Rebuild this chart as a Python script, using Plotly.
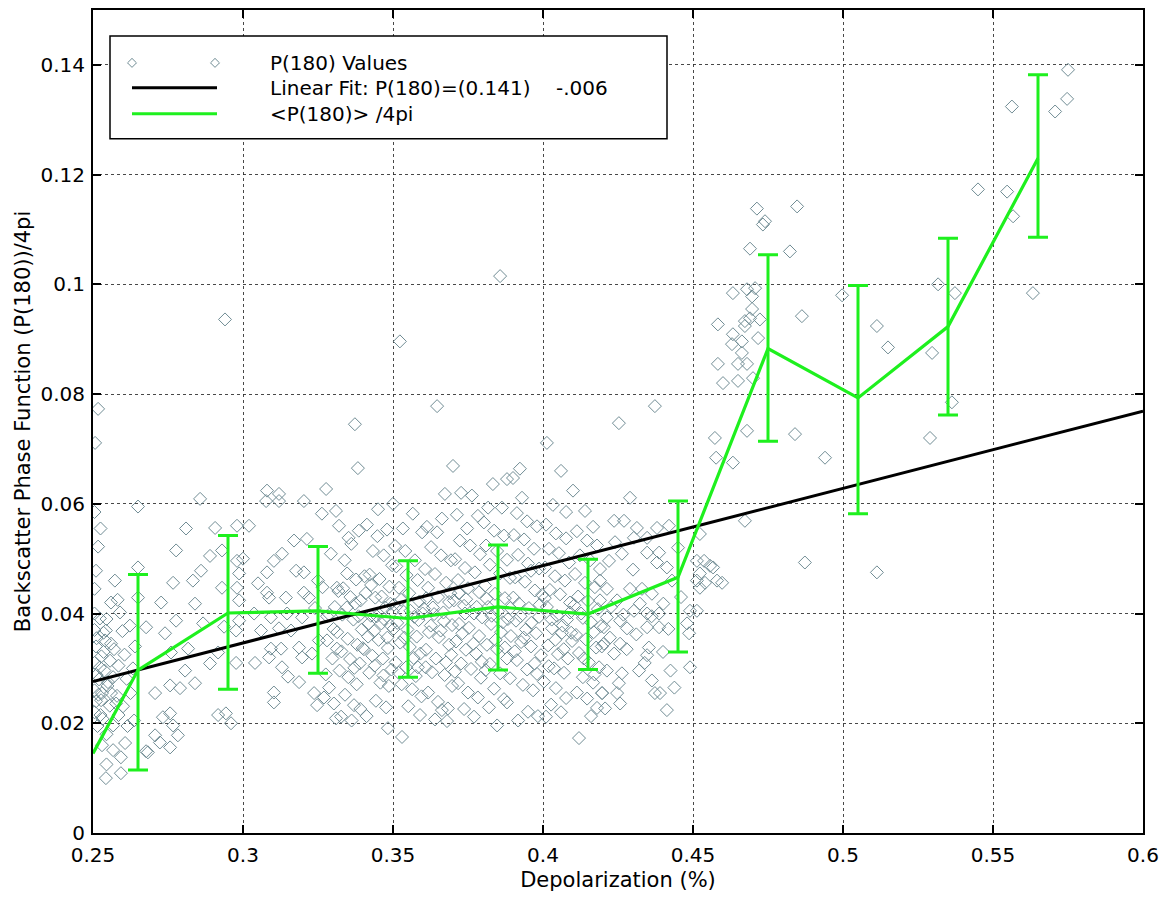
import plotly.graph_objects as go

# ---------------- data ----------------
# binned mean <P(180)>/4pi with error bars
bin_depol = [0.265, 0.295, 0.325, 0.355, 0.385, 0.415, 0.445, 0.475, 0.505, 0.535, 0.565]
bin_mean = [0.0297, 0.0401, 0.0405, 0.0391, 0.0412, 0.0399, 0.0466, 0.0883, 0.0793, 0.0923, 0.1230]
bin_top = [0.0471, 0.0542, 0.0522, 0.0496, 0.0525, 0.0499, 0.0605, 0.1054, 0.0998, 0.1084, 0.1382]
bin_bot = [0.0115, 0.0262, 0.0291, 0.0284, 0.0297, 0.0298, 0.0330, 0.0714, 0.0582, 0.0762, 0.1086]
mean_start = (0.25, 0.0145)

# linear fit end points
fit_depol = [0.25, 0.60]
fit_p180 = [0.0276, 0.0769]

pts_edge = [
    (0.2517,0.0773),(0.2507,0.0711),(0.2505,0.0585),(0.2525,0.0555),(0.2517,0.0522),(0.2510,0.0478),
    (0.2505,0.0445),(0.2573,0.0460),(0.2560,0.0420),(0.2590,0.0402),(0.2523,0.0391),(0.2545,0.0390),
    (0.2505,0.0400),(0.2623,0.0378),(0.2543,0.0369),(0.2505,0.0370),(0.2535,0.0365),(0.2540,0.0351),
    (0.2560,0.0345),(0.2510,0.0340),(0.2570,0.0335),(0.2535,0.0330),(0.2605,0.0325),(0.2557,0.0314),
    (0.2505,0.0310),(0.2585,0.0305),(0.2523,0.0302),(0.2567,0.0284),(0.2520,0.0280),(0.2550,0.0275),
    (0.2505,0.0260),(0.2560,0.0255),(0.2625,0.0255),(0.2580,0.0250),(0.2527,0.0242),(0.2510,0.0240),
    (0.2577,0.0236),(0.2600,0.0231),(0.2505,0.0220),(0.2525,0.0215),(0.2637,0.0205),(0.2567,0.0196),
    (0.2515,0.0195),(0.2615,0.0195),(0.2545,0.0180),(0.2530,0.0160),(0.2607,0.0164),(0.2567,0.0151),
    (0.2677,0.0149),(0.2593,0.0138),(0.2545,0.0125),(0.2593,0.0109),(0.2543,0.0100),(0.2650,0.0484),
    (0.2650,0.0429),(0.2677,0.0375),(0.2650,0.0595),(0.2633,0.0300),(0.2512,0.0288),(0.2530,0.0255),
    (0.2512,0.0355),(0.2528,0.0322),(0.2538,0.0296),(0.2548,0.0268),(0.2518,0.0252),(0.2556,0.0232),
    (0.2532,0.0208),(0.2585,0.0215),(0.2612,0.0281),(0.2640,0.0340),(0.2598,0.0368),(0.2582,0.0425),
]
pts_low = [
    (0.2740,0.0364),(0.2777,0.0387),(0.2777,0.0515),(0.2767,0.0456),(0.2833,0.0460),(0.2860,0.0478),
    (0.2840,0.0418),(0.2867,0.0382),(0.2857,0.0609),(0.2907,0.0556),(0.2817,0.0336),(0.2760,0.0329),
    (0.2890,0.0309),(0.2807,0.0296),(0.2757,0.0269),(0.2840,0.0273),(0.2790,0.0264),(0.2707,0.0255),
    (0.2757,0.0218),(0.2917,0.0215),(0.2733,0.0211),(0.2767,0.0196),(0.2783,0.0178),(0.2723,0.0165),
    (0.2707,0.0178),(0.2757,0.0156),(0.2683,0.0147),(0.2980,0.0560),(0.2930,0.0515),(0.2980,0.0496),
    (0.2930,0.0447),(0.2980,0.0447),(0.2940,0.0936),(0.2960,0.0200),(0.2943,0.0218),(0.2977,0.0310),
    (0.2937,0.0376),(0.2987,0.0387),(0.2987,0.0424),(0.2977,0.0369),(0.2987,0.0473),(0.2917,0.0329),
    (0.2727,0.0420),(0.2810,0.0555),(0.2890,0.0505),
    (0.3080,0.0624),(0.3120,0.0618),(0.3077,0.0605),(0.3120,0.0605),(0.3203,0.0605),(0.3277,0.0627),
    (0.3263,0.0582),(0.3170,0.0533),(0.3213,0.0536),(0.3130,0.0509),(0.3103,0.0496),(0.3080,0.0475),
    (0.3177,0.0478),(0.3203,0.0475),(0.3313,0.0447),(0.3080,0.0438),(0.3087,0.0429),(0.3143,0.0429),
    (0.3203,0.0438),(0.3220,0.0429),(0.3037,0.0400),(0.3093,0.0393),(0.3147,0.0400),(0.3197,0.0393),
    (0.3160,0.0369),(0.3060,0.0369),(0.3120,0.0373),(0.3093,0.0336),(0.3127,0.0336),(0.3087,0.0320),
    (0.3130,0.0302),(0.3187,0.0338),(0.3197,0.0320),(0.3230,0.0327),(0.3253,0.0351),(0.3280,0.0351),
    (0.3313,0.0336),(0.3187,0.0275),(0.3103,0.0256),(0.3103,0.0238),(0.3237,0.0255),(0.3270,0.0247),
    (0.3287,0.0265),(0.3247,0.0233),(0.3303,0.0236),(0.3310,0.0209),(0.3020,0.0560),(0.3050,0.0455),
    (0.3250,0.0460),(0.3240,0.0410),(0.3280,0.0395),(0.3040,0.0310),(0.3150,0.0285),(0.3000,0.0500),
]
pts_core_a = [
    (0.3310,0.0587),(0.3320,0.0560),(0.3293,0.0509),(0.3352,0.0538),(0.3383,0.0665),(0.3373,0.0745),
    (0.3386,0.0551),(0.3361,0.0527),(0.3347,0.0473),(0.3318,0.0441),(0.3339,0.0497),(0.3377,0.0462),
    (0.3392,0.0424),(0.3306,0.0412),(0.3331,0.0398),(0.3368,0.0389),(0.3396,0.0371),(0.3314,0.0366),
    (0.3349,0.0354),(0.3381,0.0343),(0.3328,0.0331),(0.3357,0.0317),(0.3389,0.0309),(0.3322,0.0296),
    (0.3351,0.0284),(0.3379,0.0271),(0.3340,0.0252),(0.3370,0.0233),(0.3327,0.0212),(0.3362,0.0205),
    (0.3391,0.0226),(0.3346,0.0411),(0.3374,0.0418),
    (0.3413,0.0562),(0.3448,0.0541),(0.3480,0.0553),(0.3433,0.0514),(0.3469,0.0506),(0.3497,0.0488),
    (0.3422,0.0471),(0.3455,0.0463),(0.3488,0.0449),(0.3409,0.0437),(0.3441,0.0429),(0.3474,0.0411),
    (0.3499,0.0404),(0.3426,0.0396),(0.3461,0.0382),(0.3492,0.0378),(0.3417,0.0358),(0.3452,0.0352),
    (0.3483,0.0337),(0.3431,0.0323),(0.3466,0.0318),(0.3495,0.0298),(0.3421,0.0292),(0.3458,0.0274),
    (0.3486,0.0268),(0.3443,0.0241),(0.3477,0.0229),(0.3412,0.0213),(0.3483,0.0191),(0.3437,0.0368),
    (0.3470,0.0390),(0.3403,0.0335),(0.3450,0.0590),
    (0.3533,0.0555),(0.3566,0.0582),(0.3597,0.0548),(0.3507,0.0523),(0.3541,0.0514),(0.3573,0.0497),
    (0.3511,0.0486),(0.3545,0.0470),(0.3582,0.0461),(0.3520,0.0447),(0.3554,0.0437),(0.3588,0.0422),
    (0.3503,0.0416),(0.3536,0.0403),(0.3571,0.0394),(0.3599,0.0400),(0.3514,0.0383),(0.3548,0.0371),
    (0.3579,0.0358),(0.3524,0.0347),(0.3556,0.0339),(0.3591,0.0327),(0.3509,0.0311),(0.3544,0.0302),
    (0.3576,0.0286),(0.3529,0.0271),(0.3564,0.0262),(0.3595,0.0249),(0.3551,0.0231),(0.3523,0.0896),
    (0.3530,0.0175),(0.3590,0.0215),(0.3500,0.0600),
]
pts_core_b = [
    (0.3613,0.0558),(0.3647,0.0548),(0.3663,0.0573),(0.3673,0.0618),(0.3700,0.0669),(0.3647,0.0778),
    (0.3627,0.0521),(0.3660,0.0506),(0.3693,0.0497),(0.3607,0.0481),(0.3640,0.0472),(0.3677,0.0456),
    (0.3617,0.0447),(0.3650,0.0430),(0.3687,0.0421),(0.3603,0.0409),(0.3637,0.0399),(0.3670,0.0386),
    (0.3697,0.0379),(0.3620,0.0366),(0.3653,0.0357),(0.3687,0.0343),(0.3610,0.0334),(0.3643,0.0318),
    (0.3677,0.0311),(0.3630,0.0293),(0.3663,0.0224),(0.3697,0.0268),(0.3617,0.0256),(0.3650,0.0239),
    (0.3683,0.0227),(0.3640,0.0207),(0.3680,0.0204),
    (0.3713,0.0580),(0.3763,0.0615),(0.3747,0.0555),(0.3783,0.0578),(0.3727,0.0620),(0.3723,0.0533),
    (0.3757,0.0524),(0.3790,0.0508),(0.3707,0.0499),(0.3740,0.0483),(0.3773,0.0475),(0.3717,0.0461),
    (0.3750,0.0446),(0.3787,0.0439),(0.3703,0.0424),(0.3737,0.0414),(0.3770,0.0400),(0.3797,0.0393),
    (0.3720,0.0381),(0.3753,0.0374),(0.3787,0.0359),(0.3710,0.0349),(0.3743,0.0334),(0.3777,0.0327),
    (0.3727,0.0309),(0.3760,0.0299),(0.3793,0.0283),(0.3717,0.0273),(0.3750,0.0256),(0.3783,0.0247),
    (0.3737,0.0226),(0.3770,0.0212),(0.3740,0.0400),
    (0.3833,0.0636),(0.3880,0.0645),(0.3817,0.0593),(0.3863,0.0593),(0.3803,0.0566),(0.3837,0.0551),
    (0.3870,0.0542),(0.3810,0.0524),(0.3847,0.0514),(0.3880,0.0498),(0.3823,0.0489),(0.3857,0.0473),
    (0.3890,0.0465),(0.3807,0.0451),(0.3840,0.0436),(0.3873,0.0428),(0.3817,0.0412),(0.3850,0.0404),
    (0.3883,0.0390),(0.3827,0.0381),(0.3860,0.0366),(0.3893,0.0359),(0.3813,0.0343),(0.3847,0.0335),
    (0.3880,0.0318),(0.3823,0.0308),(0.3857,0.0291),(0.3890,0.0282),(0.3837,0.0263),(0.3870,0.0244),
    (0.3820,0.0229),(0.3857,0.1015),(0.3880,0.0238),(0.3847,0.0196),
]
pts_core_c = [
    (0.3900,0.0647),(0.3923,0.0664),(0.3930,0.0611),(0.3913,0.0583),(0.3947,0.0568),(0.3980,0.0559),
    (0.3903,0.0543),(0.3937,0.0535),(0.3970,0.0518),(0.3917,0.0507),(0.3950,0.0491),(0.3987,0.0482),
    (0.3907,0.0466),(0.3940,0.0458),(0.3973,0.0442),(0.3997,0.0434),(0.3920,0.0418),(0.3953,0.0410),
    (0.3987,0.0394),(0.3910,0.0387),(0.3943,0.0371),(0.3977,0.0364),(0.3927,0.0348),(0.3960,0.0340),
    (0.3993,0.0324),(0.3913,0.0315),(0.3947,0.0298),(0.3980,0.0290),(0.3933,0.0270),(0.3967,0.0260),
    (0.3917,0.0205),(0.3950,0.0221),(0.3983,0.0213),(0.3960,0.0478),
    (0.4013,0.0711),(0.4060,0.0660),(0.4033,0.0598),(0.4077,0.0585),(0.4010,0.0562),(0.4043,0.0546),
    (0.4077,0.0537),(0.4020,0.0518),(0.4053,0.0510),(0.4087,0.0493),(0.4007,0.0484),(0.4040,0.0468),
    (0.4073,0.0460),(0.4023,0.0443),(0.4057,0.0435),(0.4090,0.0420),(0.4013,0.0412),(0.4047,0.0396),
    (0.4080,0.0389),(0.4030,0.0373),(0.4063,0.0365),(0.4097,0.0350),(0.4017,0.0342),(0.4050,0.0326),
    (0.4083,0.0318),(0.4037,0.0300),(0.4070,0.0292),(0.4003,0.0276),(0.4043,0.0264),(0.4077,0.0246),
    (0.4027,0.0234),(0.4010,0.0212),(0.4060,0.0220),(0.4090,0.0402),
    (0.4100,0.0624),(0.4140,0.0587),(0.4167,0.0558),(0.4113,0.0550),(0.4147,0.0533),(0.4180,0.0524),
    (0.4123,0.0506),(0.4157,0.0497),(0.4190,0.0481),(0.4107,0.0472),(0.4140,0.0456),(0.4173,0.0448),
    (0.4117,0.0431),(0.4150,0.0423),(0.4183,0.0408),(0.4127,0.0400),(0.4160,0.0384),(0.4193,0.0377),
    (0.4110,0.0361),(0.4143,0.0353),(0.4177,0.0338),(0.4120,0.0328),(0.4153,0.0311),(0.4187,0.0302),
    (0.4133,0.0284),(0.4167,0.0274),(0.4113,0.0256),(0.4147,0.0245),(0.4180,0.0228),(0.4120,0.0173),
    (0.4160,0.0213),(0.4197,0.0255),
]
pts_core_d = [
    (0.3265,0.0448),(0.3288,0.0398),(0.3302,0.0372),(0.3298,0.0318),(0.3276,0.0289),(0.3334,0.0446),
    (0.3358,0.0430),(0.3385,0.0395),(0.3399,0.0337),(0.3371,0.0301),(0.3405,0.0468),(0.3427,0.0452),
    (0.3462,0.0431),(0.3491,0.0418),(0.3446,0.0395),(0.3418,0.0381),(0.3481,0.0356),(0.3439,0.0305),
    (0.3468,0.0287),(0.3502,0.0372),(0.3527,0.0425),(0.3558,0.0405),(0.3585,0.0388),(0.3538,0.0356),
    (0.3569,0.0319),(0.3519,0.0292),(0.3583,0.0302),(0.3611,0.0428),(0.3633,0.0411),(0.3668,0.0402),
    (0.3691,0.0437),(0.3626,0.0378),(0.3659,0.0369),(0.3694,0.0325),(0.3609,0.0302),(0.3672,0.0288),
    (0.3719,0.0437),(0.3744,0.0426),(0.3779,0.0412),(0.3731,0.0364),(0.3768,0.0345),(0.3796,0.0312),
    (0.3706,0.0294),(0.3812,0.0427),(0.3829,0.0396),(0.3866,0.0384),(0.3891,0.0410),(0.3842,0.0352),
    (0.3873,0.0338),(0.3809,0.0297),(0.3901,0.0429),(0.3925,0.0395),(0.3961,0.0383),(0.3989,0.0416),
    (0.3936,0.0356),(0.3972,0.0309),(0.3906,0.0331),(0.4006,0.0428),(0.4029,0.0389),(0.4066,0.0378),
    (0.4094,0.0365),(0.4041,0.0352),(0.4069,0.0335),(0.4019,0.0304),(0.4104,0.0415),(0.4133,0.0392),
    (0.4169,0.0366),(0.4196,0.0340),(0.4136,0.0318),(0.4172,0.0289),(0.4227,0.0412),(0.4268,0.0398),
    (0.4311,0.0362),(0.4339,0.0310),(0.4279,0.0335),(0.4362,0.0395),(0.4401,0.0418),(0.4418,0.0372),
    (0.4425,0.0296),(0.4438,0.0265),
]
pts_mid = [
    (0.4253,0.0747),(0.4373,0.0778),(0.4290,0.0611),(0.4237,0.0569),(0.4270,0.0569),(0.4313,0.0556),
    (0.4303,0.0538),(0.4347,0.0538),(0.4380,0.0556),(0.4220,0.0496),(0.4263,0.0509),(0.4347,0.0511),
    (0.4387,0.0511),(0.4380,0.0493),(0.4413,0.0484),(0.4190,0.0460),(0.4213,0.0445),(0.4290,0.0445),
    (0.4330,0.0445),(0.4363,0.0436),(0.4190,0.0424),(0.4247,0.0424),(0.4323,0.0418),(0.4303,0.0405),
    (0.4347,0.0400),(0.4387,0.0400),(0.4213,0.0393),(0.4257,0.0387),(0.4203,0.0375),(0.4280,0.0373),
    (0.4347,0.0375),(0.4387,0.0375),(0.4223,0.0356),(0.4257,0.0345),(0.4203,0.0345),(0.4237,0.0327),
    (0.4353,0.0338),(0.4347,0.0324),(0.4480,0.0382),(0.4487,0.0364),(0.4513,0.0405),(0.4490,0.0302),
    (0.4213,0.0296),(0.4263,0.0291),(0.4320,0.0296),(0.4363,0.0278),(0.4253,0.0273),(0.4197,0.0255),
    (0.4247,0.0255),(0.4373,0.0255),(0.4207,0.0227),(0.4390,0.0255),(0.4413,0.0224),(0.4257,0.0236),
    (0.4513,0.0496),(0.4537,0.0496),(0.4557,0.0487),(0.4513,0.0460),(0.4540,0.0456),(0.4523,0.0447),
    (0.4580,0.0460),(0.4597,0.0456),(0.4567,0.0484),(0.4523,0.0473),(0.4490,0.0405),(0.4420,0.0560),
    (0.4450,0.0520),(0.4430,0.0460),(0.4460,0.0430),(0.4300,0.0480),(0.4240,0.0530),(0.4400,0.0330),
]
pts_high = [
    (0.4713,0.1138),(0.4847,0.1142),(0.4740,0.1115),(0.4733,0.1109),(0.4690,0.1065),(0.4823,0.1060),
    (0.4633,0.0984),(0.4680,0.0991),(0.4697,0.0978),(0.4707,0.0993),(0.4697,0.0955),(0.4583,0.0927),
    (0.4673,0.0933),(0.4690,0.0938),(0.4723,0.0936),(0.4673,0.0924),(0.4863,0.0942),(0.4633,0.0909),
    (0.4663,0.0896),(0.4717,0.0902),(0.4630,0.0891),(0.4663,0.0875),(0.4650,0.0855),(0.4680,0.0855),
    (0.4583,0.0855),(0.4600,0.0820),(0.4650,0.0824),(0.4700,0.0829),(0.4573,0.0720),(0.4680,0.0733),
    (0.4840,0.0727),(0.4577,0.0684),(0.4633,0.0675),(0.4940,0.0684),(0.4673,0.0569),(0.4523,0.0545),
    (0.4873,0.0493),
    (0.5750,0.1391),(0.5747,0.1338),(0.5707,0.1315),(0.5563,0.1324),(0.5450,0.1173),(0.5547,0.1169),
    (0.5567,0.1124),(0.5317,0.1000),(0.5373,0.0984),(0.5633,0.0984),(0.4997,0.0980),(0.5113,0.0924),
    (0.5150,0.0885),(0.5297,0.0875),(0.5363,0.0785),(0.5290,0.0720),(0.5113,0.0475),
]

all_pts = pts_edge + pts_low + pts_core_a + pts_core_b + pts_core_c + pts_core_d + pts_mid + pts_high
scatter_depol = [p[0] for p in all_pts]
scatter_p180 = [p[1] for p in all_pts]

x_ticks = [0.25, 0.3, 0.35, 0.4, 0.45, 0.5, 0.55, 0.6]
x_ticktext = ["0.25", "0.3", "0.35", "0.4", "0.45", "0.5", "0.55", "0.6"]
y_ticks = [0, 0.02, 0.04, 0.06, 0.08, 0.1, 0.12, 0.14]
y_ticktext = ["0", "0.02", "0.04", "0.06", "0.08", "0.1", "0.12", "0.14"]

legend_labels = ["P(180) Values", "Linear Fit: P(180)=(0.141)    -.006", "<P(180)> /4pi"]

# ---------------- styles ----------------
PT_COLOR = "rgb(112,140,148)"
GREEN = "rgb(30,240,30)"
FONT = "DejaVu Sans, Verdana, sans-serif"

fig = go.Figure()

fig.add_trace(go.Scatter(
    x=scatter_depol, y=scatter_p180, mode="markers",
    marker=dict(symbol="diamond-open", size=10, color=PT_COLOR, line=dict(width=1, color=PT_COLOR)),
    showlegend=False, hoverinfo="skip"))

fig.add_trace(go.Scatter(
    x=fit_depol, y=fit_p180, mode="lines",
    line=dict(color="black", width=3), showlegend=False))

fig.add_trace(go.Scatter(
    x=[mean_start[0]] + bin_depol, y=[mean_start[1]] + bin_mean, mode="lines",
    line=dict(color=GREEN, width=3.2), showlegend=False))

fig.add_trace(go.Scatter(
    x=bin_depol, y=bin_mean, mode="markers",
    marker=dict(size=1, color=GREEN, opacity=0),
    error_y=dict(type="data", symmetric=False,
                 array=[t - m for t, m in zip(bin_top, bin_mean)],
                 arrayminus=[m - b for m, b in zip(bin_mean, bin_bot)],
                 color=GREEN, thickness=3, width=10),
    showlegend=False))

# ---------------- hand-drawn MATLAB-style legend ----------------
def px_to_paper(px, py):
    return (px - 93) / 1050.0, (833 - py) / 825.0

bx0, by0 = px_to_paper(110, 137)
bx1, by1 = px_to_paper(667, 34)
shapes = [dict(type="rect", xref="paper", yref="paper", x0=bx0, y0=by0, x1=bx1, y1=by1,
               line=dict(color="black", width=1.5), fillcolor="white", layer="above")]
rows_py = [61, 86, 112]
lx0, _ = px_to_paper(132, 0)
lx1, _ = px_to_paper(217, 0)
for py, col in [(rows_py[1], "black"), (rows_py[2], GREEN)]:
    _, yy = px_to_paper(0, py)
    shapes.append(dict(type="line", xref="paper", yref="paper", x0=lx0, x1=lx1, y0=yy, y1=yy,
                       line=dict(color=col, width=3), layer="above"))
for mx in [132, 215]:
    cx, cy = px_to_paper(mx, rows_py[0])
    dx, dy = 4.5 / 1050.0, 4.5 / 825.0
    shapes.append(dict(type="path", xref="paper", yref="paper",
                       path=f"M {cx-dx} {cy} L {cx} {cy+dy} L {cx+dx} {cy} L {cx} {cy-dy} Z",
                       line=dict(color=PT_COLOR, width=1), layer="above"))

annotations = []
tx, _ = px_to_paper(268, 0)
for py, txt in zip(rows_py, legend_labels):
    _, yy = px_to_paper(0, py)
    annotations.append(dict(x=tx, y=yy, xref="paper", yref="paper",
                            text=txt.replace("<", "&lt;").replace(">", "&gt;"),
                            showarrow=False, xanchor="left", yanchor="middle",
                            font=dict(family=FONT, size=20, color="black")))

axis_common = dict(showline=True, linecolor="black", linewidth=2, mirror="ticks",
                   ticks="inside", ticklen=8, tickwidth=2, tickcolor="black",
                   showgrid=True, gridcolor="rgba(40,40,40,0.85)", gridwidth=1, griddash="dot",
                   zeroline=False, tickfont=dict(family=FONT, size=20, color="black"))

fig.update_layout(
    width=1169, height=900,
    margin=dict(l=93, r=26, t=8, b=67),
    paper_bgcolor="white", plot_bgcolor="white",
    xaxis=dict(range=[0.25, 0.6], tickvals=x_ticks, ticktext=x_ticktext, ticklabelstandoff=3,
               title=dict(text="Depolarization (%)", font=dict(family=FONT, size=21, color="black"), standoff=6),
               **axis_common),
    yaxis=dict(range=[0, 0.15], tickvals=y_ticks, ticktext=y_ticktext, ticklabelstandoff=2,
               title=dict(text="Backscatter Phase Function (P(180))/4pi", font=dict(family=FONT, size=21, color="black"), standoff=4),
               **axis_common),
    shapes=shapes, annotations=annotations, showlegend=False,
)

fig.write_html("out.html")
